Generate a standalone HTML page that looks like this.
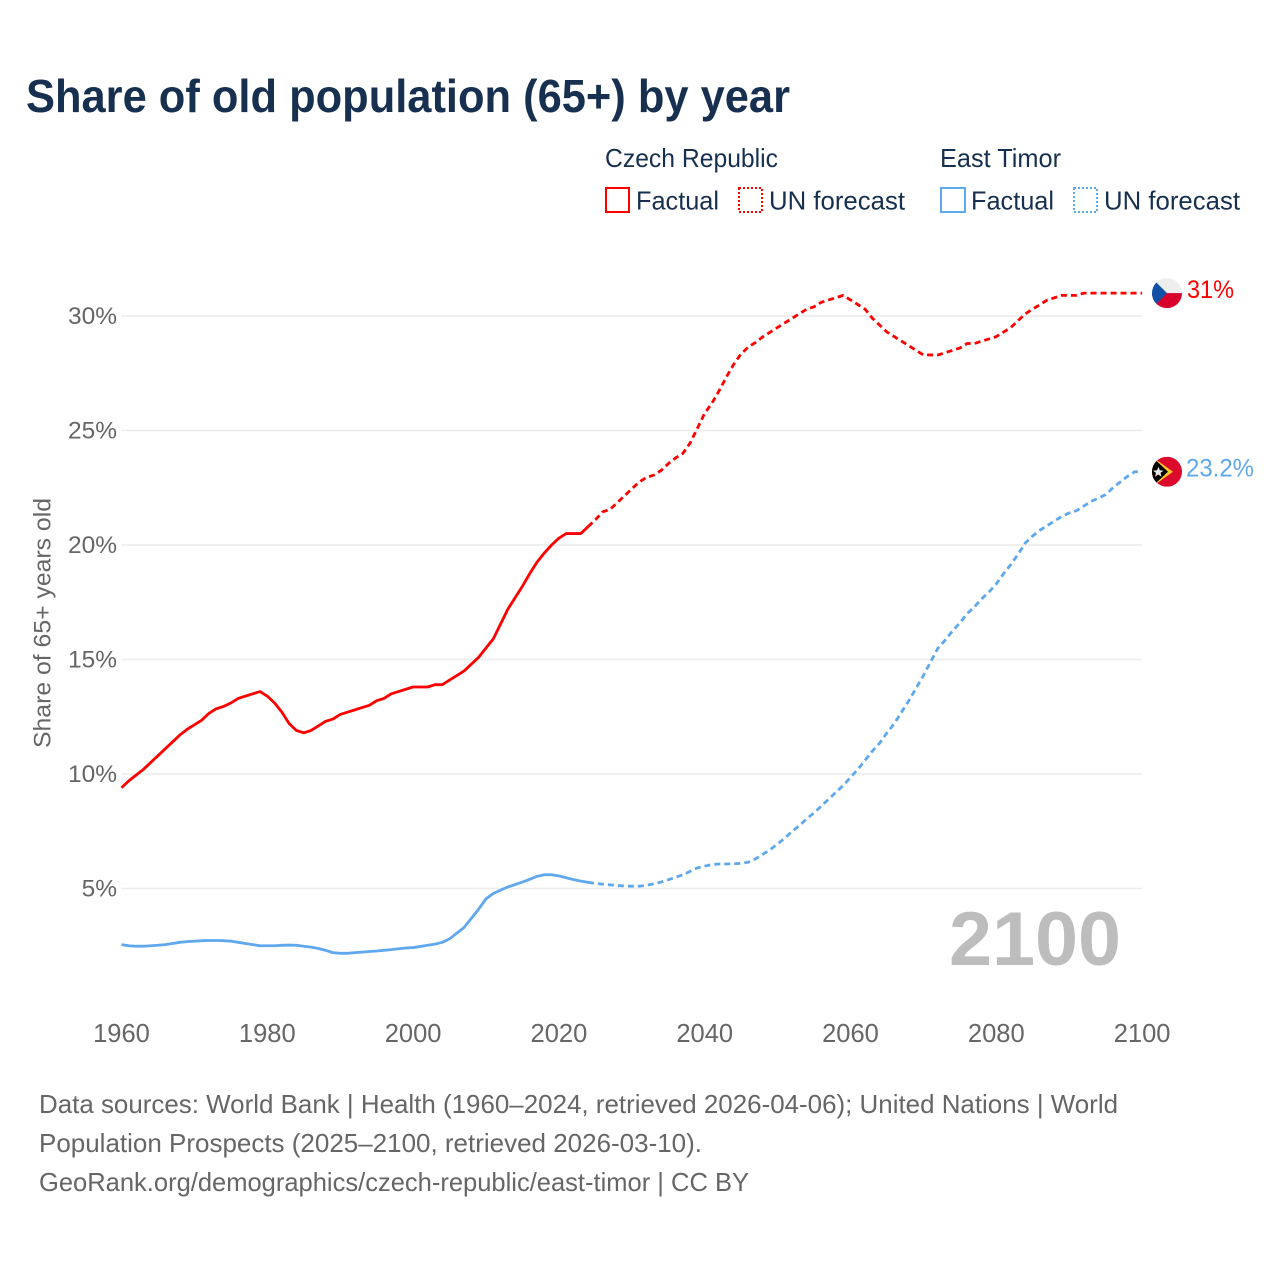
<!DOCTYPE html>
<html lang="en">
<head>
<meta charset="utf-8">
<title>Share of old population (65+) by year</title>
<style>
html,body{margin:0;padding:0;background:#fff;}
svg{display:block;font-family:"Liberation Sans",sans-serif;}
</style>
</head>
<body>
<svg id="chart" width="1280" height="1280" viewBox="0 0 1280 1280" xmlns="http://www.w3.org/2000/svg">
  <defs>
    <clipPath id="flag-clip-cz"><circle cx="0" cy="0" r="15"/></clipPath>
    <clipPath id="flag-clip-tl"><circle cx="0" cy="0" r="15"/></clipPath>
  </defs>
  <text x="26" y="112" font-size="46" font-weight="700" fill="#18304f" textLength="764" lengthAdjust="spacingAndGlyphs">Share of old population (65+) by year</text>

  <g font-size="26" fill="#18304f">
    <text x="605" y="167" textLength="173" lengthAdjust="spacingAndGlyphs">Czech Republic</text>
    <text x="940" y="167" textLength="121" lengthAdjust="spacingAndGlyphs">East Timor</text>
    <rect x="606" y="188" width="23" height="24" fill="none" stroke="#ff0000" stroke-width="2"/>
    <text x="636" y="209.5" textLength="83" lengthAdjust="spacingAndGlyphs">Factual</text>
    <rect x="739" y="188" width="23" height="24" fill="none" stroke="#ff0000" stroke-width="2" stroke-dasharray="2 2"/>
    <text x="769" y="209.5" textLength="136" lengthAdjust="spacingAndGlyphs">UN forecast</text>
    <rect x="941" y="188" width="24" height="24" fill="none" stroke="#5fa8ee" stroke-width="2"/>
    <text x="971" y="209.5" textLength="83" lengthAdjust="spacingAndGlyphs">Factual</text>
    <rect x="1074" y="188" width="23" height="24" fill="none" stroke="#5fa8ee" stroke-width="2" stroke-dasharray="2 2"/>
    <text x="1104" y="209.5" textLength="136" lengthAdjust="spacingAndGlyphs">UN forecast</text>
  </g>

  <g id="grid"></g>
  <g id="y-ticks"></g>
  <g id="x-ticks"></g>
  <text transform="translate(50.5,623) rotate(-90)" text-anchor="middle" font-size="24" fill="#666" textLength="250" lengthAdjust="spacingAndGlyphs">Share of 65+ years old</text>

  <text x="949" y="965" font-size="76" font-weight="700" fill="#bdbdbd" textLength="172" lengthAdjust="spacingAndGlyphs">2100</text>

  <g id="series"></g>

  <g id="flag-cz">
    <g clip-path="url(#flag-clip-cz)">
      <rect x="-15" y="-15" width="30" height="15" fill="#eeeeee"/>
      <rect x="-15" y="0" width="30" height="15" fill="#d7002c"/>
      <polygon points="-15,-15 0,0 -15,15" fill="#1151a5"/>
    </g>
  </g>
  <g id="flag-tl">
    <g clip-path="url(#flag-clip-tl)">
      <rect x="-15" y="-15" width="30" height="30" fill="#dc0a2c"/>
      <polygon points="-15,-15 6,0 -15,15" fill="#fbc628"/>
      <polygon points="-15,-15 1,0 -15,15" fill="#000"/>
      <polygon points="-8.5,-5 -7.2,-1.5 -3.5,-1 -6.5,1.2 -5.5,5 -8.8,2.8 -12,5 -11,1.2 -14,-1 -10,-1.5" fill="#e8e8e8"/>
    </g>
  </g>
  <text id="label-cz" x="1187" font-size="25" fill="#ff0000" textLength="47" lengthAdjust="spacingAndGlyphs"></text>
  <text id="label-tl" x="1186" font-size="25" fill="#5fa8ee" textLength="68" lengthAdjust="spacingAndGlyphs"></text>

  <g font-size="26" fill="#666">
    <text x="39" y="1113" textLength="1079" lengthAdjust="spacingAndGlyphs">Data sources: World Bank | Health (1960–2024, retrieved 2026-04-06); United Nations | World</text>
    <text x="39" y="1152" textLength="663" lengthAdjust="spacingAndGlyphs">Population Prospects (2025–2100, retrieved 2026-03-10).</text>
    <text x="39" y="1191" textLength="710" lengthAdjust="spacingAndGlyphs">GeoRank.org/demographics/czech-republic/east-timor | CC BY</text>
  </g>
</svg>

<script>
const xTickYears = [1960, 1980, 2000, 2020, 2040, 2060, 2080, 2100];
const yTickValues = [5, 10, 15, 20, 25, 30];
const firstYear = 1960;
const forecastFirstYear = 2024;

// 1960–2024
const czechFactual = [
  9.4, 9.7, 9.95, 10.2, 10.5, 10.8, 11.1, 11.4, 11.7, 11.95,
  12.15, 12.35, 12.65, 12.85, 12.95, 13.1, 13.3, 13.4, 13.5, 13.6,
  13.4, 13.1, 12.7, 12.2, 11.9, 11.8, 11.9, 12.1, 12.3, 12.4,
  12.6, 12.7, 12.8, 12.9, 13.0, 13.2, 13.3, 13.5, 13.6, 13.7,
  13.8, 13.8, 13.8, 13.9, 13.9, 14.1, 14.3, 14.5, 14.8, 15.1,
  15.5, 15.9, 16.55, 17.2, 17.7, 18.2, 18.75, 19.25, 19.65, 20.0,
  20.3, 20.5, 20.5, 20.5, 20.8
];
// 2024–2100
const czechForecast = [
  20.8, 21.1, 21.45, 21.55, 21.85, 22.15,
  22.45, 22.75, 22.95, 23.05, 23.25, 23.55, 23.8, 24.0, 24.45, 25.1,
  25.75, 26.2, 26.75, 27.35, 27.9, 28.35, 28.65, 28.85, 29.1, 29.3,
  29.5, 29.7, 29.9, 30.1, 30.3, 30.4, 30.6, 30.7, 30.8, 30.9,
  30.7, 30.5, 30.3, 29.9, 29.6, 29.3, 29.1, 28.9, 28.7, 28.5,
  28.3, 28.3, 28.3, 28.4, 28.5, 28.6, 28.8, 28.8, 28.9, 29.0,
  29.1, 29.3, 29.5, 29.8, 30.1, 30.3, 30.5, 30.7, 30.8, 30.9,
  30.9, 30.9, 31.0, 31.0, 31.0, 31.0, 31.0, 31.0, 31.0, 31.0,
  31.0
];
// 1960–2024
const timorFactual = [
  2.55, 2.5, 2.48, 2.48, 2.5, 2.52, 2.55, 2.6, 2.65, 2.68,
  2.7, 2.72, 2.73, 2.73, 2.72, 2.7, 2.65, 2.6, 2.55, 2.5,
  2.5, 2.5, 2.52, 2.53, 2.52, 2.48, 2.44, 2.38, 2.3, 2.2,
  2.17, 2.17, 2.2, 2.22, 2.25, 2.27, 2.3, 2.33, 2.37, 2.4,
  2.42, 2.47, 2.52, 2.57, 2.65, 2.8, 3.05, 3.3, 3.7, 4.1,
  4.55, 4.78, 4.93, 5.07, 5.17, 5.28, 5.4, 5.53, 5.6, 5.6,
  5.55, 5.47, 5.39, 5.32, 5.27
];
// 2024–2100
const timorForecast = [
  5.27, 5.22, 5.19, 5.16, 5.13, 5.11,
  5.1, 5.1, 5.14, 5.2, 5.28, 5.38, 5.49, 5.6, 5.75, 5.9,
  5.98, 6.05, 6.07, 6.07, 6.08, 6.1, 6.15, 6.3, 6.5, 6.7,
  6.95, 7.2, 7.5, 7.75, 8.05, 8.3, 8.6, 8.9, 9.2, 9.5,
  9.85, 10.2, 10.6, 11.0, 11.35, 11.8, 12.2, 12.7, 13.2, 13.75,
  14.3, 14.9, 15.5, 15.85, 16.25, 16.6, 17.0, 17.3, 17.65, 17.95,
  18.3, 18.75, 19.15, 19.6, 20.1, 20.4, 20.65, 20.85, 21.05, 21.25,
  21.4, 21.5, 21.7, 21.9, 22.05, 22.2, 22.5, 22.75, 23.0, 23.2,
  23.2
];
const czechEndLabel = "31%";
const timorEndLabel = "23.2%";

const NS = "http://www.w3.org/2000/svg";
const RED = "#ff0000";
const BLUE = "#5fa8ee";

function xScale(year) { return 121.5 + (year - 1960) * 7.29; }
function yScale(value) { return 1003 - value * 22.9; }

function linePath(values, startYear) {
  return values.map(function (v, i) {
    return (i ? "L" : "M") + xScale(startYear + i).toFixed(2) + " " + yScale(v).toFixed(2);
  }).join(" ");
}

const gridGroup = document.getElementById("grid");
const yTickGroup = document.getElementById("y-ticks");
const xTickGroup = document.getElementById("x-ticks");
const seriesGroup = document.getElementById("series");

yTickValues.forEach(function (v) {
  const line = document.createElementNS(NS, "line");
  
  
  line.setAttribute("x1", xScale(1960));
  line.setAttribute("x2", xScale(2100));
  line.setAttribute("y1", yScale(v));
  line.setAttribute("y2", yScale(v));
  line.setAttribute("stroke", "#ececec");
  line.setAttribute("stroke-width", "1.5");
  gridGroup.appendChild(line);

  const label = document.createElementNS(NS, "text");
  
  
  label.setAttribute("x", 117);
  label.setAttribute("y", yScale(v) + 8);
  label.setAttribute("text-anchor", "end");
  label.setAttribute("font-size", "24.5");
  label.setAttribute("fill", "#666");
  label.textContent = v + "%";
  yTickGroup.appendChild(label);
});

xTickYears.forEach(function (year) {
  const label = document.createElementNS(NS, "text");
  
  
  label.setAttribute("x", xScale(year));
  label.setAttribute("y", 1042);
  label.setAttribute("text-anchor", "middle");
  label.setAttribute("font-size", "25.5");
  label.setAttribute("fill", "#666");
  label.textContent = year;
  xTickGroup.appendChild(label);
});

function addLine(name, values, startYear, color, dashed) {
  const path = document.createElementNS(NS, "path");
  
  
  path.setAttribute("d", linePath(values, startYear));
  path.setAttribute("fill", "none");
  path.setAttribute("stroke", color);
  path.setAttribute("stroke-width", "2.8");
  path.setAttribute("stroke-linejoin", "round");
  if (dashed) path.setAttribute("stroke-dasharray", "6 4");
  seriesGroup.appendChild(path);
}

addLine("czech-forecast-line", czechForecast, forecastFirstYear, RED, true);
addLine("czech-factual-line", czechFactual, firstYear, RED, false);
addLine("timor-forecast-line", timorForecast, forecastFirstYear, BLUE, true);
addLine("timor-factual-line", timorFactual, firstYear, BLUE, false);

function placeEnd(flagId, labelId, lastValue, text) {
  const cy = yScale(lastValue);
  document.getElementById(flagId).setAttribute("transform", "translate(1167," + cy.toFixed(2) + ")");
  const label = document.getElementById(labelId);
  label.setAttribute("y", (cy + 5).toFixed(2));
  label.textContent = text;
}
placeEnd("flag-cz", "label-cz", czechForecast[czechForecast.length - 1], czechEndLabel);
placeEnd("flag-tl", "label-tl", timorForecast[timorForecast.length - 1], timorEndLabel);
</script>
</body>
</html>
